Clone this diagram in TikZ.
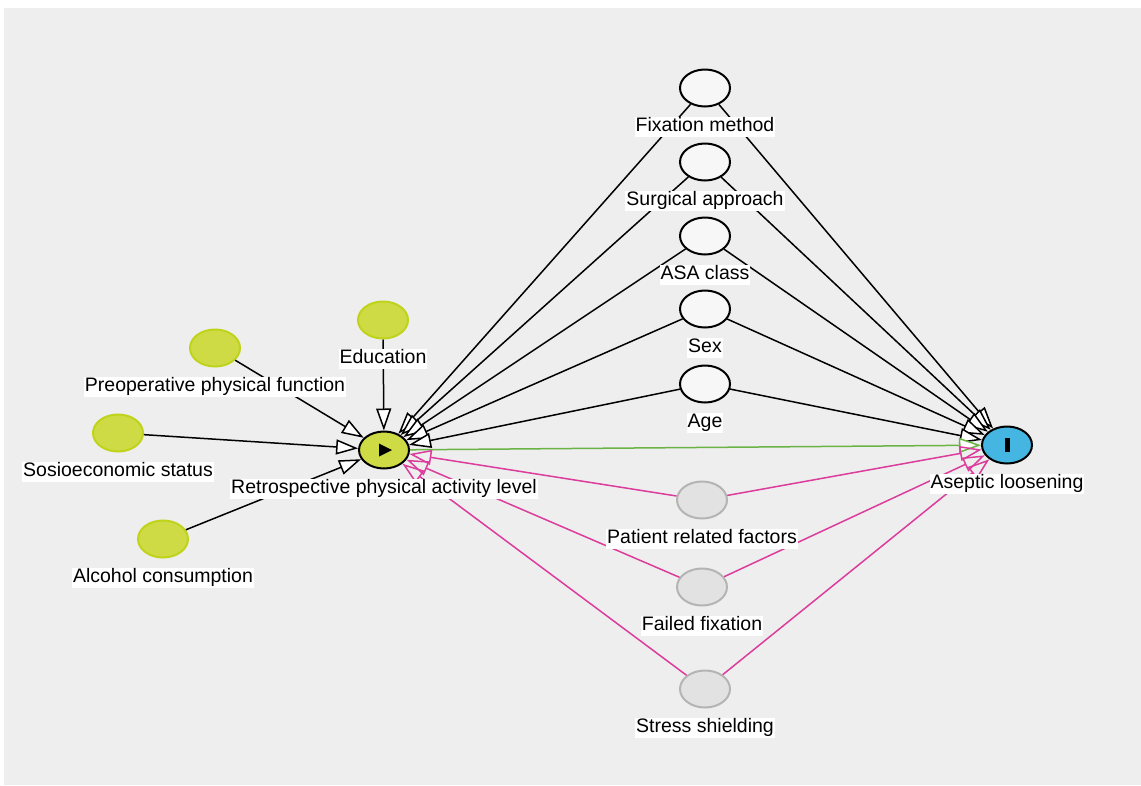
\documentclass[tikz,border=0pt]{standalone}
\usepackage{fontspec}
\setmainfont{Liberation Sans}
\usetikzlibrary{positioning,shapes.geometric,arrows.meta}
\definecolor{bggray}{HTML}{EEEEEE}
\definecolor{ancfill}{HTML}{CFDB45}
\definecolor{ancdraw}{HTML}{BFD31A}
\definecolor{outfill}{HTML}{45B6E2}
\definecolor{latfill}{HTML}{E2E2E2}
\definecolor{latdraw}{HTML}{B4B4B4}
\definecolor{biascol}{HTML}{DC3C9B}
\definecolor{pathcol}{HTML}{6BB344}
\tikzset{vnode/.style={ellipse,inner sep=0pt,minimum width=50pt,minimum height=37pt,line width=2pt},
	 anode/.style={vnode,draw=ancdraw,fill=ancfill},
	 enode/.style={vnode,draw=black,fill=ancfill},
	 onode/.style={vnode,draw=black,fill=outfill},
	 cnode/.style={vnode,draw=black,fill=white!97!black},
	 lnode/.style={vnode,draw=latdraw,fill=latfill},
	 vlab/.style={fill=white,inner sep=1pt,text height=14pt,text depth=4pt,font=\fontsize{19.5}{22}\selectfont},
	 cause/.style={-{Triangle[length=22pt,width=15pt,fill=white]},line width=1.5pt},
	 causal/.style={-{Triangle[length=22pt,width=15pt,fill=white]},draw=pathcol,line width=1.5pt},
	 bias/.style={-{Triangle[open,length=22pt,width=15pt]},draw=biascol,line width=1.5pt}
	 }

\begin{document}
\begin{tikzpicture}[x=1pt,y=-1pt] % physical activity and aseptic loosening
	\useasboundingbox (0,0) rectangle (1141,785);
	\fill[white] (0,0) rectangle (1141,785);
	\fill[bggray] (4,8) rectangle (1141,785);
	\node[cnode] (fix) at (705,88) {};
	\node[cnode] (surg) at (705,162) {};
	\node[cnode] (asa) at (705,236) {};
	\node[cnode] (sex) at (705,309) {};
	\node[cnode] (age) at (705,384) {};
	\node[enode] (pal) at (384,450) {};
	\node[onode] (asl) at (1007,445) {};
	\node[anode] (edu) at (383,320) {};
	\node[anode] (pre) at (215,348) {};
	\node[anode] (ses) at (118,433) {};
	\node[anode] (alc) at (163,539) {};
	\node[lnode] (prf) at (702,500) {};
	\node[lnode] (ffx) at (702,587) {};
	\node[lnode] (ssh) at (705,689) {};
	\foreach \a in {edu,pre,ses,alc} \draw[cause] (\a) -- (pal);
	\foreach \a in {fix,surg,asa,sex,age} {\draw[cause] (\a) -- (pal); \draw[cause] (\a) -- (asl);}
	\draw[causal] (pal) -- (asl);
	\foreach \a in {prf,ffx,ssh} {\draw[bias] (\a) -- (pal); \draw[bias] (\a) -- (asl);}
	\node[vlab] (fixl) [below=9pt of fix] {Fixation method};
	\node[vlab] (surgl) [below=9pt of surg] {Surgical approach};
	\node[vlab] (asal) [below=9pt of asa] {ASA class};
	\node[vlab] (sexl) [below=9pt of sex] {Sex};
	\node[vlab] (agel) [below=9pt of age] {Age};
	\node[vlab] (pall) [below=9pt of pal] {Retrospective physical activity level};
	\node[vlab] (asll) [below=9pt of asl] {Aseptic loosening};
	\node[vlab] (edul) [below=9pt of edu] {Education};
	\node[vlab] (prel) [below=9pt of pre] {Preoperative physical function};
	\node[vlab] (sesl) [below=9pt of ses] {Sosioeconomic status};
	\node[vlab] (alcl) [below=9pt of alc] {Alcohol consumption};
	\node[vlab] (prfl) [below=9pt of prf] {Patient related factors};
	\node[vlab] (ffxl) [below=9pt of ffx] {Failed fixation};
	\node[vlab] (sshl) [below=9pt of ssh] {Stress shielding};
	\fill ([shift={(-5,-6.5)}]pal.center) -- ([shift={(8,0)}]pal.center) -- ([shift={(-5,6.5)}]pal.center) -- cycle;
	\fill ([shift={(-2.5,-7)}]asl.center) rectangle ([shift={(2.5,7)}]asl.center);
\end{tikzpicture}
\end{document}
